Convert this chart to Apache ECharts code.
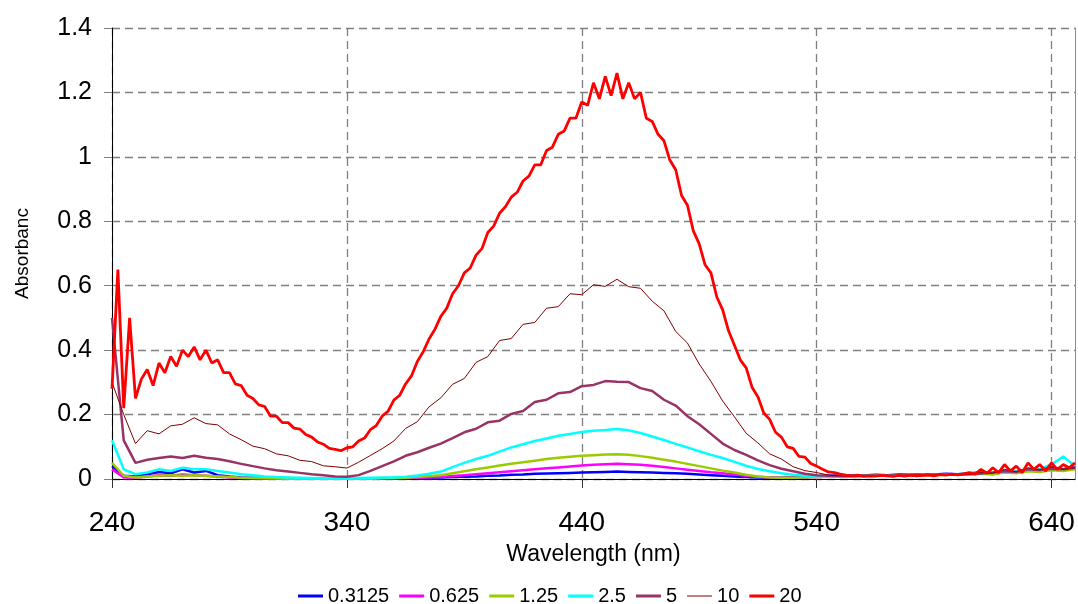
<!DOCTYPE html>
<html>
<head>
<meta charset="utf-8">
<script src="https://cdn.jsdelivr.net/npm/echarts@6/dist/echarts.min.js"></script>
<style>
html,body{margin:0;padding:0;background:#fff;}
#chart{width:1078px;height:604px;}
</style>
</head>
<body>
<div id="chart"></div>
<script>
// Wavelengths (nm), 5 nm step
const wl5 = [240,245,250,255,260,265,270,275,280,285,
290,295,300,305,310,315,320,325,330,335,
340,345,350,355,360,365,370,375,380,385,
390,395,400,405,410,415,420,425,430,435,
440,445,450,455,460,465,470,475,480,485,
490,495,500,505,510,515,520,525,530,535,
540,545,550,555,560,565,570,575,580,585,
590,595,600,605,610,615,620,625,630,635,
640,645,650];

// Wavelengths (nm), 2.5 nm step (used for the 20 series)
const wl2 = [240,242.5,245,247.5,250,252.5,255,257.5,260,262.5,
265,267.5,270,272.5,275,277.5,280,282.5,285,287.5,
290,292.5,295,297.5,300,302.5,305,307.5,310,312.5,
315,317.5,320,322.5,325,327.5,330,332.5,335,337.5,
340,342.5,345,347.5,350,352.5,355,357.5,360,362.5,
365,367.5,370,372.5,375,377.5,380,382.5,385,387.5,
390,392.5,395,397.5,400,402.5,405,407.5,410,412.5,
415,417.5,420,422.5,425,427.5,430,432.5,435,437.5,
440,442.5,445,447.5,450,452.5,455,457.5,460,462.5,
465,467.5,470,472.5,475,477.5,480,482.5,485,487.5,
490,492.5,495,497.5,500,502.5,505,507.5,510,512.5,
515,517.5,520,522.5,525,527.5,530,532.5,535,537.5,
540,542.5,545,547.5,550,552.5,555,557.5,560,562.5,
565,567.5,570,572.5,575,577.5,580,582.5,585,587.5,
590,592.5,595,597.5,600,602.5,605,607.5,610,612.5,
615,617.5,620,622.5,625,627.5,630,632.5,635,637.5,
640,642.5,645,647.5,650];

const names = ['0.3125','0.625','1.25','2.5','5','10','20'];

const a03125 = [0.04,0.01,0.008,0.015,0.022,0.018,0.03,0.02,0.025,0.012,
0.008,0.005,0.004,0.003,0.002,0.002,0.001,0.001,0.001,0.001,
0.001,0.001,0.001,0.002,0.002,0.002,0.003,0.004,0.005,0.006,
0.007,0.008,0.01,0.011,0.013,0.014,0.016,0.017,0.018,0.019,
0.02,0.021,0.022,0.023,0.022,0.021,0.02,0.019,0.018,0.016,
0.014,0.012,0.01,0.008,0.006,0.005,0.004,0.004,0.005,0.006,
0.008,0.01,0.011,0.012,0.011,0.013,0.012,0.014,0.013,0.015,
0.014,0.016,0.015,0.018,0.02,0.017,0.025,0.022,0.03,0.028,
0.035,0.03,0.04];

const a0625 = [0.03,0.005,0.004,0.008,0.012,0.01,0.014,0.012,0.01,0.008,
0.005,0.003,0.002,0.002,0.001,0.001,0.001,0.001,0.001,0.001,
0.001,0.001,0.001,0.002,0.002,0.003,0.004,0.005,0.006,0.009,
0.012,0.015,0.018,0.021,0.024,0.027,0.03,0.033,0.036,0.039,
0.042,0.044,0.046,0.047,0.046,0.044,0.041,0.037,0.033,0.029,
0.025,0.021,0.018,0.014,0.01,0.007,0.005,0.004,0.004,0.005,
0.006,0.007,0.008,0.009,0.01,0.01,0.011,0.012,0.011,0.013,
0.012,0.014,0.013,0.016,0.018,0.015,0.022,0.02,0.027,0.025,
0.03,0.028,0.035];

const a125 = [0.05,0.01,0.005,0.008,0.01,0.012,0.01,0.012,0.01,0.008,
0.006,0.004,0.003,0.002,0.002,0.001,0.001,0.001,0.001,0.001,
0.001,0.001,0.001,0.002,0.003,0.004,0.006,0.009,0.012,0.018,
0.024,0.03,0.036,0.042,0.047,0.052,0.057,0.062,0.066,0.069,
0.072,0.074,0.076,0.077,0.075,0.071,0.066,0.06,0.054,0.047,
0.04,0.033,0.026,0.02,0.013,0.008,0.005,0.004,0.004,0.005,
0.006,0.007,0.008,0.008,0.009,0.01,0.01,0.011,0.011,0.012,
0.012,0.013,0.013,0.015,0.016,0.015,0.02,0.018,0.024,0.022,
0.027,0.025,0.03];

const a25 = [0.12,0.03,0.015,0.02,0.03,0.025,0.035,0.03,0.03,0.025,
0.02,0.015,0.012,0.008,0.006,0.005,0.004,0.003,0.002,0.002,
0.002,0.003,0.004,0.005,0.005,0.007,0.011,0.016,0.023,0.037,
0.05,0.062,0.072,0.085,0.098,0.108,0.118,0.126,0.134,0.14,
0.146,0.15,0.152,0.155,0.151,0.143,0.132,0.121,0.109,0.098,
0.086,0.075,0.065,0.053,0.041,0.031,0.024,0.018,0.013,0.01,
0.008,0.008,0.009,0.01,0.01,0.011,0.011,0.012,0.012,0.013,
0.013,0.014,0.015,0.016,0.018,0.02,0.022,0.025,0.028,0.03,
0.045,0.07,0.04];

const a5 = [0.5,0.12,0.05,0.06,0.065,0.07,0.065,0.072,0.066,0.062,
0.055,0.047,0.04,0.033,0.027,0.023,0.019,0.015,0.012,0.008,
0.007,0.012,0.025,0.04,0.055,0.072,0.083,0.097,0.11,0.127,
0.145,0.156,0.176,0.181,0.202,0.211,0.239,0.246,0.266,0.27,
0.288,0.292,0.304,0.302,0.301,0.282,0.273,0.246,0.228,0.195,
0.17,0.14,0.11,0.09,0.075,0.058,0.043,0.032,0.024,0.016,
0.012,0.01,0.009,0.009,0.01,0.01,0.011,0.011,0.012,0.012,
0.013,0.013,0.014,0.015,0.017,0.02,0.024,0.022,0.03,0.028,
0.032,0.03,0.035];

const a10 = [0.3,0.2,0.11,0.15,0.14,0.165,0.17,0.19,0.172,0.168,
0.14,0.122,0.102,0.094,0.078,0.072,0.058,0.054,0.041,0.038,
0.034,0.052,0.073,0.094,0.118,0.157,0.178,0.224,0.252,0.294,
0.312,0.362,0.38,0.43,0.436,0.48,0.486,0.53,0.535,0.575,
0.572,0.603,0.598,0.62,0.597,0.592,0.552,0.522,0.458,0.422,
0.357,0.303,0.242,0.193,0.142,0.112,0.078,0.062,0.038,0.026,
0.02,0.012,0.01,0.009,0.009,0.01,0.01,0.011,0.011,0.012,
0.012,0.013,0.013,0.015,0.02,0.018,0.03,0.022,0.035,0.028,
0.04,0.03,0.035];

const a20 = [0.28,0.65,0.22,0.5,0.25,0.31,0.34,0.29,0.36,0.33,
0.38,0.35,0.4,0.38,0.41,0.37,0.4,0.36,0.37,0.33,
0.33,0.295,0.29,0.26,0.25,0.23,0.225,0.195,0.195,0.175,
0.175,0.158,0.155,0.138,0.13,0.115,0.108,0.095,0.092,0.088,
0.097,0.1,0.118,0.127,0.153,0.166,0.195,0.21,0.245,0.26,
0.295,0.32,0.365,0.395,0.435,0.465,0.505,0.53,0.575,0.6,
0.64,0.655,0.695,0.715,0.765,0.785,0.825,0.845,0.875,0.89,
0.925,0.94,0.975,0.975,1.02,1.03,1.07,1.08,1.12,1.12,
1.17,1.16,1.23,1.18,1.25,1.19,1.26,1.18,1.23,1.18,
1.2,1.12,1.11,1.07,1.05,0.99,0.96,0.88,0.85,0.77,
0.73,0.665,0.64,0.565,0.525,0.46,0.415,0.37,0.345,0.285,
0.255,0.205,0.185,0.145,0.13,0.1,0.095,0.07,0.068,0.048,
0.04,0.03,0.022,0.02,0.015,0.012,0.01,0.012,0.008,0.01,
0.009,0.011,0.01,0.008,0.011,0.009,0.012,0.01,0.011,0.013,
0.01,0.014,0.012,0.015,0.013,0.016,0.02,0.015,0.03,0.018,
0.035,0.02,0.045,0.025,0.04,0.02,0.05,0.03,0.045,0.025,
0.05,0.03,0.045,0.035,0.05];

const xTicks = [240,340,440,540,640];

const colors = ['#0000FF','#FF00FF','#99CC00','#00FFFF','#993366','#800000','#FF0000'];
const widths = [2.5,2.5,2.5,2.5,2.5,1,2.8];
const xs = [wl5,wl5,wl5,wl5,wl5,wl5,wl2];
const ys = [a03125,a0625,a125,a25,a5,a10,a20];

const FONT = '"Liberation Sans", Arial, sans-serif';

const series = names.map((n,k)=>({
  name:n, type:'line', symbol:'none', showSymbol:false,
  data: xs[k].map((x,i)=>[x, ys[k][i]]),
  lineStyle:{color:colors[k], width:widths[k]},
  itemStyle:{color:colors[k]},
  emphasis:{disabled:true},
  z: 2+k
}));

const legendData = names.map((n,k)=>({name:n, icon:'rect', itemStyle:{color:colors[k]}}));
legendData[5].icon = 'path://M0,0H25V1H0Z';

const chart = echarts.init(document.getElementById('chart'), null, {renderer:'canvas'});
chart.setOption({
  animation:false,
  backgroundColor:'#ffffff',
  textStyle:{fontFamily:FONT},
  grid:{left:112, right:3, top:28, bottom:125, containLabel:false},
  legend:{
    data:legendData, left:293, top:581, itemWidth:25, itemHeight:3, itemGap:10,
    textStyle:{fontFamily:FONT, fontSize:20, color:'#000'}
  },
  xAxis:{
    type:'value', min:240, max:650, interval:100,
    name:'Wavelength (nm)', nameLocation:'middle', nameGap:64,
    nameTextStyle:{fontFamily:FONT, fontSize:23, color:'#000'},
    axisLine:{show:true, onZero:false, lineStyle:{color:'#000', width:1}},
    axisTick:{show:true, inside:false, length:9, customValues:xTicks, lineStyle:{color:'#333'}},
    axisLabel:{fontFamily:FONT, fontSize:28, color:'#000', margin:30, customValues:xTicks},
    splitLine:{show:true, lineStyle:{color:'#7f7f7f', width:1.3, type:[8,5]}}
  },
  yAxis:[{
    type:'value', min:0, max:1.4, interval:0.2,
    name:'Absorbance', nameLocation:'middle', nameGap:80,
    nameTruncate:{maxWidth:95, ellipsis:''},
    nameTextStyle:{fontFamily:FONT, fontSize:19, color:'#000'},
    axisLine:{show:true, lineStyle:{color:'#000', width:1}},
    axisTick:{show:true, inside:false, length:8, lineStyle:{color:'#7f7f7f'}},
    axisLabel:{fontFamily:FONT, fontSize:25, color:'#000', margin:20},
    splitLine:{show:true, lineStyle:{color:'#7f7f7f', width:1.3, type:[8,5]}}
  },{
    type:'value', min:0, max:1.4, interval:0.2, position:'right',
    axisLine:{show:true, lineStyle:{color:'#8c8c8c', width:1}},
    axisTick:{show:false}, axisLabel:{show:false}, splitLine:{show:false}
  }],
  series: series
});
</script>
</body>
</html>
